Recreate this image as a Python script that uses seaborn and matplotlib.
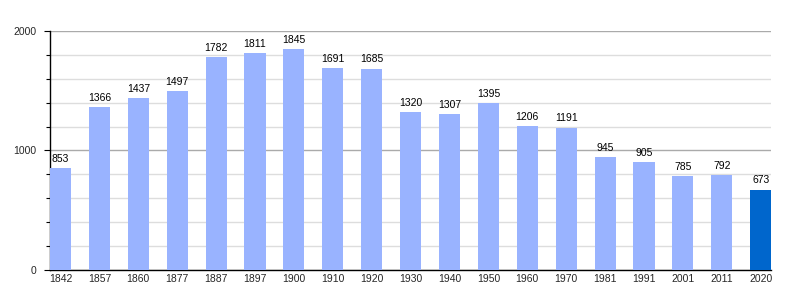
import matplotlib
matplotlib.use("Agg")
import matplotlib.pyplot as plt
import seaborn as sns
import pandas as pd
from matplotlib.ticker import MultipleLocator

years = ["1842", "1857", "1860", "1877", "1887", "1897", "1900", "1910", "1920", "1930",
         "1940", "1950", "1960", "1970", "1981", "1991", "2001", "2011", "2020"]
population = [853, 1366, 1437, 1497, 1782, 1811, 1845, 1691, 1685, 1320,
              1307, 1395, 1206, 1191, 945, 905, 785, 792, 673]

df = pd.DataFrame({"year": years, "pop": population})
colors = ["#99b3ff"] * (len(years) - 1) + ["#0066cc"]

sns.set_theme(style="white")
plt.rcParams["font.family"] = ["Liberation Sans", "DejaVu Sans"]

fig = plt.figure(figsize=(8, 3), dpi=100)
ax = fig.add_axes([0.0625, 0.1, 0.9015, 0.797])

sns.barplot(data=df, x="year", y="pop", hue="year", palette=colors, legend=False,
            width=0.54, saturation=1, linewidth=0, ax=ax, zorder=3)

ax.set_xlim(-0.27, len(years) - 1 + 0.27)
ax.set_ylim(0, 2000)
ax.yaxis.set_major_locator(MultipleLocator(1000))
ax.yaxis.set_minor_locator(MultipleLocator(200))
ax.grid(which="major", axis="y", color="#aaaaaa", linewidth=1, zorder=0)
ax.grid(which="minor", axis="y", color="#dddddd", linewidth=1, zorder=0)
ax.set_axisbelow(True)
ax.set_xlabel("")
ax.set_ylabel("")

for s in ["top", "right"]:
    ax.spines[s].set_visible(False)
for s in ["left", "bottom"]:
    ax.spines[s].set_color("black")
    ax.spines[s].set_linewidth(1)

ax.tick_params(axis="y", which="major", left=True, length=4, width=0.8, color="black",
               labelsize=7.5, pad=6)
ax.tick_params(axis="y", which="minor", left=True, length=3, width=0.8, color="black")
ax.tick_params(axis="x", which="major", bottom=False, length=0, labelsize=7.5, pad=3)

for i, v in enumerate(population):
    ax.annotate(str(v), (i, v), xytext=(0, 3), textcoords="offset points",
                ha="center", va="bottom", fontsize=7.5, color="black")

fig.savefig("out.png", dpi=100)
